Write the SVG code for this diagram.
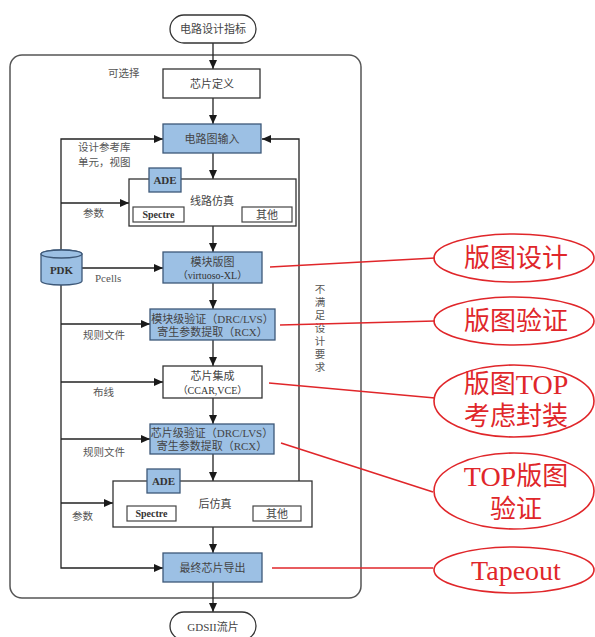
<svg xmlns="http://www.w3.org/2000/svg" width="595" height="637" viewBox="0 0 595 637">
<defs>
<marker id="ah" markerUnits="userSpaceOnUse" markerWidth="9" markerHeight="8" refX="9" refY="4" orient="auto">
<path d="M0,0 L9,4 L0,8 z" fill="#1a1a1a"/>
</marker>
<style>
.box{fill:#fff;stroke:#333;stroke-width:1.3}
.blue{fill:#9cc0e4;stroke:#3d5878;stroke-width:1.3}
.sub{fill:#fff;stroke:#444;stroke-width:1.2}
.t{font-family:"Liberation Serif","Noto Sans CJK SC",serif;font-size:11px;fill:#444;text-anchor:middle;dominant-baseline:central}
.tb{font-family:"Liberation Serif","Noto Sans CJK SC",serif;font-size:10px;fill:#333;text-anchor:middle;dominant-baseline:central}
.lb{font-family:"Liberation Serif","Noto Sans CJK SC",serif;font-size:10.5px;fill:#555;dominant-baseline:central}
.ser{font-family:"Liberation Serif",serif;font-weight:bold;fill:#333;text-anchor:middle;dominant-baseline:central}
.c{fill:none;stroke:#222;stroke-width:1.3}
.r{fill:none;stroke:#e0262a;stroke-width:1.6}
.rt{font-family:"Liberation Serif","Noto Sans CJK SC",serif;font-size:26px;fill:#e0262a;text-anchor:middle;dominant-baseline:central}
.rs{font-family:"Liberation Serif",serif;font-size:28px;fill:#e0262a;text-anchor:middle;dominant-baseline:central}
</style>
</defs>
<rect width="595" height="637" fill="#fff"/>
<g id="outer"><rect x="10" y="55" width="351" height="543" rx="12" fill="none" stroke="#555" stroke-width="1.5"/></g>
<text class="lb" x="108" y="73">可选择</text>
<g id="connectors">
<path class="c" d="M213,43 V69" marker-end="url(#ah)"/>
<path class="c" d="M213,98 V124" marker-end="url(#ah)"/>
<path class="c" d="M213,153 V179" marker-end="url(#ah)"/>
<path class="c" d="M213,226 V252" marker-end="url(#ah)"/>
<path class="c" d="M213,283 V309" marker-end="url(#ah)"/>
<path class="c" d="M213,340 V366" marker-end="url(#ah)"/>
<path class="c" d="M213,398 V424" marker-end="url(#ah)"/>
<path class="c" d="M213,454 V481" marker-end="url(#ah)"/>
<path class="c" d="M213,527 V553" marker-end="url(#ah)"/>
<path class="c" d="M213,582 V612" marker-end="url(#ah)"/>
<path class="c" d="M61,250 V139 H163" marker-end="url(#ah)"/>
<path class="c" d="M61,203 H129" marker-end="url(#ah)"/>
<path class="c" d="M82,268 H163" marker-end="url(#ah)"/>
<path class="c" d="M61,285 V568 H163" marker-end="url(#ah)"/>
<path class="c" d="M61,324 H150" marker-end="url(#ah)"/>
<path class="c" d="M61,382 H163" marker-end="url(#ah)"/>
<path class="c" d="M61,439 H150" marker-end="url(#ah)"/>
<path class="c" d="M61,503 H113" marker-end="url(#ah)"/>
<path class="c" d="M299,481 V139 H262" marker-end="url(#ah)"/>
</g>
<g id="labels">
<text class="lb" x="78" y="147">设计参考库</text>
<text class="lb" x="78" y="162">单元，视图</text>
<text class="lb" x="83" y="213">参数</text>
<text class="lb" x="95" y="278" style="font-size:11px">Pcells</text>
<text class="lb" x="83" y="335">规则文件</text>
<text class="lb" x="93" y="392">布线</text>
<text class="lb" x="83" y="452">规则文件</text>
<text class="lb" x="72" y="516">参数</text>
<text class="lb" x="319" y="284" writing-mode="tb" letter-spacing="2.5" style="dominant-baseline:auto">不满足设计要求</text>
</g>
<g id="start"><rect class="box" x="170" y="15" width="86" height="28" rx="14"/><text class="t" x="213" y="29">电路设计指标</text></g>
<g id="chipdef"><rect class="box" x="163" y="69" width="97" height="29"/><text class="t" x="212" y="83.5">芯片定义</text></g>
<g id="schematic"><rect class="blue" x="163" y="124" width="98" height="29"/><text class="t" x="212" y="138.5">电路图输入</text></g>
<g id="sim1">
<rect class="box" x="129" y="179" width="167" height="47"/>
<rect class="blue" x="149" y="168" width="32" height="24"/><text class="ser" x="165" y="180" font-size="11">ADE</text>
<text class="t" x="212" y="201">线路仿真</text>
<rect class="sub" x="133" y="207" width="51" height="15"/><text class="ser" x="158.5" y="214.5" font-size="10">Spectre</text>
<rect class="sub" x="242" y="207" width="50" height="15"/><text class="t" x="267" y="214.5" font-size="10">其他</text>
</g>
<g id="pdk">
<path d="M41,254 V281 A20.5,4 0 0 0 82,281 V254 A20.5,4 0 0 0 41,254 z" fill="#9cc0e4" stroke="#3d5878" stroke-width="1.3"/>
<ellipse cx="61.5" cy="254" rx="20.5" ry="4" fill="#9cc0e4" stroke="#3d5878" stroke-width="1.3"/>
<text class="ser" x="61.5" y="270" font-size="11">PDK</text>
</g>
<g id="layout"><rect class="blue" x="163" y="252" width="99" height="31"/><text class="t" x="212.5" y="261.5">模块版图</text><text class="tb" x="212.5" y="275.5">（virtuoso-XL）</text></g>
<g id="blockver"><rect class="blue" x="150" y="309" width="125" height="31"/><text class="t" x="212.5" y="318.5" font-size="10">模块级验证（DRC/LVS）</text><text class="t" x="212.5" y="331.5" font-size="10">寄生参数提取（RCX）</text></g>
<g id="integ"><rect class="box" x="163" y="366" width="99" height="32"/><text class="t" x="212.5" y="375.5">芯片集成</text><text class="tb" x="212.5" y="390">（CCAR,VCE）</text></g>
<g id="chipver"><rect class="blue" x="150" y="424" width="124" height="30"/><text class="t" x="212" y="433" font-size="10">芯片级验证（DRC/LVS）</text><text class="t" x="212" y="446" font-size="10">寄生参数提取（RCX）</text></g>
<g id="sim2">
<rect class="box" x="113" y="481" width="199" height="46"/>
<rect class="blue" x="147" y="469" width="33" height="24"/><text class="ser" x="163.5" y="481" font-size="11">ADE</text>
<text class="t" x="215" y="504">后仿真</text>
<rect class="sub" x="127" y="506" width="49" height="15"/><text class="ser" x="151.5" y="513.5" font-size="10">Spectre</text>
<rect class="sub" x="253" y="506" width="48" height="15"/><text class="t" x="277" y="513.5" font-size="10">其他</text>
</g>
<g id="export"><rect class="blue" x="163" y="553" width="99" height="29"/><text class="t" x="212.5" y="567.5">最终芯片导出</text></g>
<g id="gds"><rect class="box" x="170" y="612" width="86" height="28" rx="14"/><text class="t" x="213" y="627">GDSII流片</text></g>
<g id="annotations">
<path class="r" d="M270,267 L435,258"/>
<path class="r" d="M280,325 L435,321"/>
<path class="r" d="M269,383 L435,398"/>
<path class="r" d="M281,443 L433,492"/>
<path class="r" d="M272,568 L433,568"/>
<g id="a1"><ellipse class="r" cx="514" cy="258" rx="80" ry="24"/><text class="rt" x="516" y="258">版图设计</text></g>
<g id="a2"><ellipse class="r" cx="514" cy="321" rx="80" ry="24"/><text class="rt" x="516" y="321">版图验证</text></g>
<g id="a3"><ellipse class="r" cx="514" cy="401" rx="80" ry="36"/><text class="rt" x="516" y="384">版图<tspan style="font-size:28px">TOP</tspan></text><text class="rt" x="516" y="416">考虑封装</text></g>
<g id="a4"><ellipse class="r" cx="514" cy="491" rx="80" ry="38"/><text class="rt" x="516" y="476"><tspan style="font-size:28px">TOP</tspan>版图</text><text class="rt" x="516" y="509">验证</text></g>
<g id="a5"><ellipse class="r" cx="514" cy="570" rx="80" ry="23"/><text class="rs" x="516" y="570">Tapeout</text></g>
</g>
</svg>
